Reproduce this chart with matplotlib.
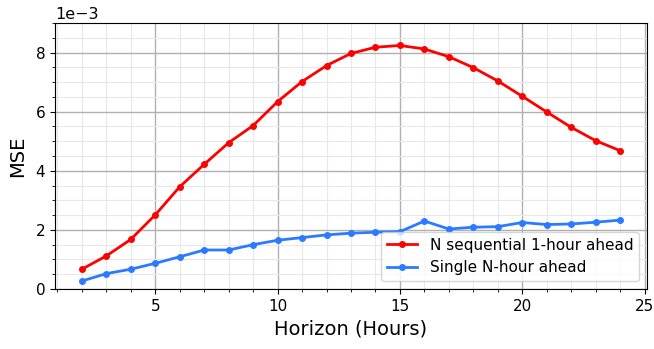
import numpy as np
import matplotlib
matplotlib.use('Agg')
import matplotlib.pyplot as plt
from matplotlib.ticker import MultipleLocator

# ============================ data ========================================
horizon = list(range(2, 25))
mse_seq = [0.67, 1.12, 1.68, 2.51, 3.46, 4.22, 4.95, 5.53, 6.34, 7.02, 7.56, 7.97,
           8.18, 8.24, 8.12, 7.86, 7.49, 7.04, 6.52, 5.99, 5.47, 5.02, 4.68]
mse_single = [0.27, 0.52, 0.67, 0.87, 1.09, 1.32, 1.32, 1.50, 1.65, 1.74, 1.83, 1.89,
              1.92, 1.94, 2.30, 2.03, 2.09, 2.11, 2.25, 2.18, 2.20, 2.26, 2.33]
labels = ['N sequential 1-hour ahead', 'Single N-hour ahead']

mse_seq = np.array(mse_seq) * 1e-3
mse_single = np.array(mse_single) * 1e-3

# ============================ plot ========================================
fig = plt.figure(figsize=(6.54, 3.49), dpi=100)
ax = fig.add_axes([55/654, 1-289/349, (647-55)/654, (289-23)/349])

ax.plot(horizon, mse_seq, color='#ff0000', marker='o', markersize=4, linewidth=2, label=labels[0])
ax.plot(horizon, mse_single, color='#2a7bff', marker='o', markersize=4, linewidth=2, label=labels[1])

ax.set_ylim(0, 0.009)
ax.xaxis.set_major_locator(MultipleLocator(5))
ax.xaxis.set_minor_locator(MultipleLocator(1))
ax.yaxis.set_major_locator(MultipleLocator(0.002))
ax.yaxis.set_minor_locator(MultipleLocator(0.0005))
ax.ticklabel_format(axis='y', style='sci', scilimits=(0, 0))
ax.yaxis.get_offset_text().set_fontsize(11.5)

ax.grid(which='major', color='#b0b0b0', linewidth=1)
ax.grid(which='minor', color='#e8e8e8', linewidth=0.8)
ax.set_axisbelow(True)
ax.tick_params(labelsize=11)

ax.set_xlabel('Horizon (Hours)', fontsize=14)
ax.set_ylabel('MSE', fontsize=14, labelpad=6)
ax.legend(loc='lower right', fontsize=11)

plt.savefig('out.png', dpi=100)
